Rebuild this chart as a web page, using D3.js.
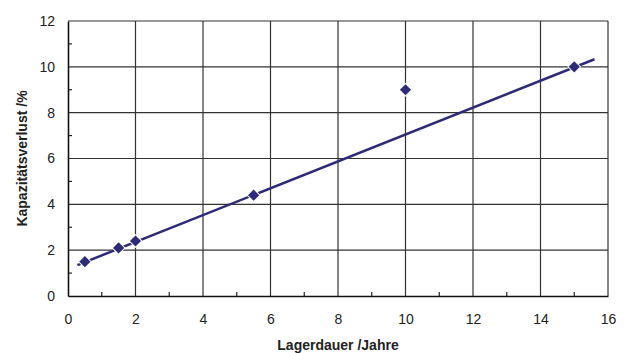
<!DOCTYPE html>
<html>
<head>
<meta charset="utf-8">
<script src="https://cdn.jsdelivr.net/npm/d3@7"></script>
<style>
  html, body { margin: 0; padding: 0; background: #fff; }
</style>
</head>
<body>
<div id="chart"></div>
<script>
// measured points
const lagerdauer = [0.5, 1.5, 2, 5.5, 10, 15];
const verlust = [1.5, 2.1, 2.4, 4.4, 9, 10];
// trend line ends
const trendX = [0.28, 15.6];
const trendY = [1.35, 10.33];
const xTicks = [0, 2, 4, 6, 8, 10, 12, 14, 16];
const yTicks = [0, 2, 4, 6, 8, 10, 12];
const xMinor = [1, 3, 5, 7, 9, 11, 13, 15];
const yMinor = [1, 3, 5, 7, 9, 11];

const width = 628, height = 353;
const margin = { top: 21, right: 20, bottom: 57, left: 68 };
const innerW = width - margin.left - margin.right;
const innerH = height - margin.top - margin.bottom;
const navy = "#2e2a7a";

const svg = d3.select("#chart").append("svg")
  .attr("width", width)
  .attr("height", height)
  .attr("font-family", "Liberation Sans, Arial, sans-serif");

const chart = svg.append("g")
  .attr("transform", "translate(" + margin.left + "," + margin.top + ")");

const x = d3.scaleLinear().domain([0, 16]).range([0, innerW]);
const y = d3.scaleLinear().domain([0, 12]).range([innerH, 0]);

// grid
chart.append("g").selectAll("line.vgrid")
  .data(xTicks.slice(1))
  .join("line")
  .attr("x1", d => x(d)).attr("x2", d => x(d))
  .attr("y1", 0).attr("y2", innerH)
  .attr("stroke", "#333").attr("stroke-width", 1.2);

chart.append("g").selectAll("line.hgrid")
  .data(yTicks.slice(1))
  .join("line")
  .attr("x1", 0).attr("x2", innerW)
  .attr("y1", d => y(d)).attr("y2", d => y(d))
  .attr("stroke", "#333").attr("stroke-width", 1.2);

// minor ticks pointing inward
chart.append("g").selectAll("line")
  .data(xMinor)
  .join("line")
  .attr("x1", d => x(d)).attr("x2", d => x(d))
  .attr("y1", innerH).attr("y2", innerH - 4)
  .attr("stroke", "#222").attr("stroke-width", 1.2);

chart.append("g").selectAll("line")
  .data(yMinor)
  .join("line")
  .attr("x1", 0).attr("x2", 4)
  .attr("y1", d => y(d)).attr("y2", d => y(d))
  .attr("stroke", "#222").attr("stroke-width", 1.2);

// axes
const xAxis = chart.append("g")
  .attr("transform", "translate(0," + innerH + ")")
  .call(d3.axisBottom(x).tickValues(xTicks).tickSize(0).tickPadding(18));
const yAxis = chart.append("g")
  .call(d3.axisLeft(y).tickValues(yTicks).tickSize(0).tickPadding(13));

[xAxis, yAxis].forEach(a => {
  a.select(".domain").attr("stroke", "#111").attr("stroke-width", 1.6);
  a.selectAll("text").attr("font-size", 14).attr("fill", "#222")
    .attr("font-family", "Liberation Sans, Arial, sans-serif");
});

// trend line
const line = d3.line().x(d => x(d[0])).y(d => y(d[1]));
chart.append("path")
  .datum(d3.zip(trendX, trendY))
  .attr("fill", "none")
  .attr("stroke", navy)
  .attr("stroke-width", 2.5)
  .attr("d", line);

// markers
chart.append("g").selectAll("path")
  .data(d3.zip(lagerdauer, verlust))
  .join("path")
  .attr("transform", d => "translate(" + x(d[0]) + "," + y(d[1]) + ")")
  .attr("d", d3.symbol().type(d3.symbolDiamond2).size(80))
  .attr("fill", navy)
  .attr("stroke", "#fff")
  .attr("stroke-width", 2)
  .attr("paint-order", "stroke");

// axis titles
svg.append("text")
  .attr("x", margin.left + innerW / 2)
  .attr("y", 350)
  .attr("text-anchor", "middle")
  .attr("font-size", 14)
  .attr("font-weight", "bold")
  .attr("fill", "#222")
  .text("Lagerdauer /Jahre");

svg.append("text")
  .attr("transform", "translate(27," + (margin.top + innerH / 2) + ") rotate(-90)")
  .attr("text-anchor", "middle")
  .attr("font-size", 14)
  .attr("font-weight", "bold")
  .attr("fill", "#222")
  .text("Kapazitätsverlust /%");
</script>
</body>
</html>
